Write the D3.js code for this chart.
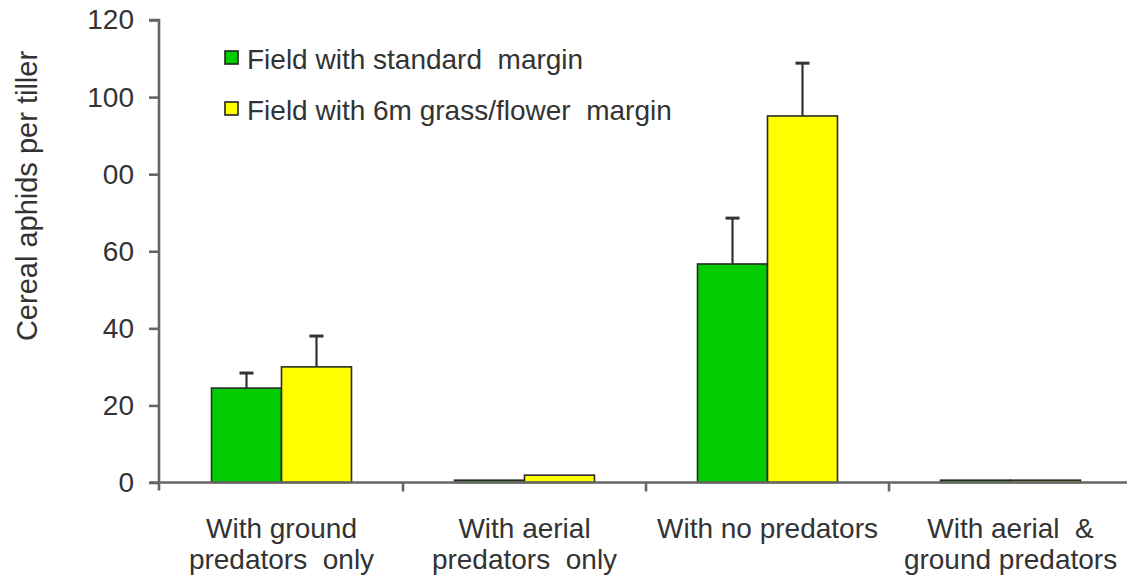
<!DOCTYPE html>
<html>
<head>
<meta charset="utf-8">
<script src="https://cdn.jsdelivr.net/npm/d3@7"></script>
<style>
  html, body { margin: 0; padding: 0; background: #fff; }
  svg { display: block; }
  text { font-family: "Liberation Sans", Arial, sans-serif; fill: #333; white-space: pre; }
</style>
</head>
<body>
<svg id="chart" width="1127" height="579"></svg>
<script>
// Aphid counts per tiller by predator-exclusion treatment
const categories = [
  ["With ground", "predators  only"],
  ["With aerial", "predators  only"],
  ["With no predators"],
  ["With aerial  &", "ground predators"]
];
const seriesNames = ["Field with standard  margin", "Field with 6m grass/flower  margin"];
const standardMargin = [24.5, 0.6, 56.7, 0.6];
const flowerMargin   = [30.0, 1.9, 95.1, 0.6];
const standardErr = [3.9, null, 11.9, null];
const flowerErr   = [8.0, null, 13.7, null];
const tickValues = [0, 20, 40, 60, 80, 100, 120];
const tickLabels = ["0", "20", "40", "60", "00", "100", "120"];
const colors = ["#00cc00", "#ffff00"];

const svg = d3.select("#chart");
const x0 = 160, x1 = 1132, yTop = 20, yBase = 482.5;

const x = d3.scaleBand().domain(d3.range(categories.length)).range([x0, x1]).padding(0);
const xs = d3.scaleBand().domain([0, 1]).range([0, x.bandwidth()])
  .paddingInner(0).paddingOuter(0.736);
const y = d3.scaleLinear().domain([0, 120]).range([yBase, yTop]);

const values = [standardMargin, flowerMargin];
const errs = [standardErr, flowerErr];

// bars
values.forEach((vals, s) => {
  svg.append("g").selectAll("rect").data(vals).join("rect")
    .attr("x", (d, i) => x(i) + xs(s))
    .attr("y", d => y(d))
    .attr("width", xs.bandwidth())
    .attr("height", d => y(0) - y(d))
    .attr("fill", colors[s])
    .attr("stroke", "#2a2a2a")
    .attr("stroke-width", 1.6);
});

// upper error bars
values.forEach((vals, s) => {
  const g = svg.append("g").attr("stroke", "#333").attr("stroke-width", 2.2);
  vals.forEach((v, i) => {
    const e = errs[s][i];
    if (e == null) return;
    const cx = x(i) + xs(s) + xs.bandwidth() / 2;
    g.append("line").attr("x1", cx).attr("x2", cx).attr("y1", y(v)).attr("y2", y(v + e));
    g.append("line").attr("x1", cx - 7).attr("x2", cx + 7).attr("y1", y(v + e)).attr("y2", y(v + e))
      .attr("stroke-width", 3);
  });
});

// y axis
const yAxis = d3.axisLeft(y).tickValues(tickValues).tickSize(10).tickPadding(15)
  .tickFormat((d, i) => tickLabels[i]);
const gy = svg.append("g").attr("transform", `translate(${x0 - 1},0)`).call(yAxis);
gy.select(".domain").attr("d", `M-10,${yTop}H0V${yBase + 8}`).attr("stroke", "#666").attr("stroke-width", 2.6);
gy.selectAll(".tick line").attr("stroke", "#666").attr("stroke-width", 2.6);
gy.selectAll(".tick text").attr("font-size", 28).attr("fill", "#333")
  .attr("font-family", "Liberation Sans, Arial, sans-serif");

// x axis with ticks at category boundaries
const gx = svg.append("g");
gx.append("line").attr("x1", x0 - 10).attr("x2", x1).attr("y1", yBase).attr("y2", yBase)
  .attr("stroke", "#666").attr("stroke-width", 2.6);
gx.selectAll("line.tk").data(d3.range(1, categories.length)).join("line")
  .attr("class", "tk")
  .attr("x1", i => x(i)).attr("x2", i => x(i))
  .attr("y1", yBase).attr("y2", yBase + 9)
  .attr("stroke", "#666").attr("stroke-width", 2.6);

// category labels
categories.forEach((lines, i) => {
  const cx = x(i) + x.bandwidth() / 2;
  const t = svg.append("text")
    .attr("text-anchor", "middle")
    .attr("font-size", 28)
    .attr("transform", `translate(${cx},0)`);
  lines.forEach((ln, j) => {
    t.append("tspan").attr("x", 0).attr("y", 538 + j * 31).text(ln);
  });
});

// y axis title
svg.append("text")
  .attr("transform", "translate(37,196) rotate(-90)")
  .attr("text-anchor", "middle")
  .attr("font-size", 29)
  .text("Cereal aphids per tiller");

// legend
const lg = svg.append("g");
seriesNames.forEach((name, s) => {
  const yy = 51 + s * 51;
  lg.append("rect").attr("x", 225).attr("y", yy).attr("width", 13).attr("height", 13)
    .attr("fill", colors[s]).attr("stroke", "#222").attr("stroke-width", 1.6);
  lg.append("text").attr("x", 247).attr("y", yy + 18).attr("font-size", 28).text(name);
});
</script>
</body>
</html>
